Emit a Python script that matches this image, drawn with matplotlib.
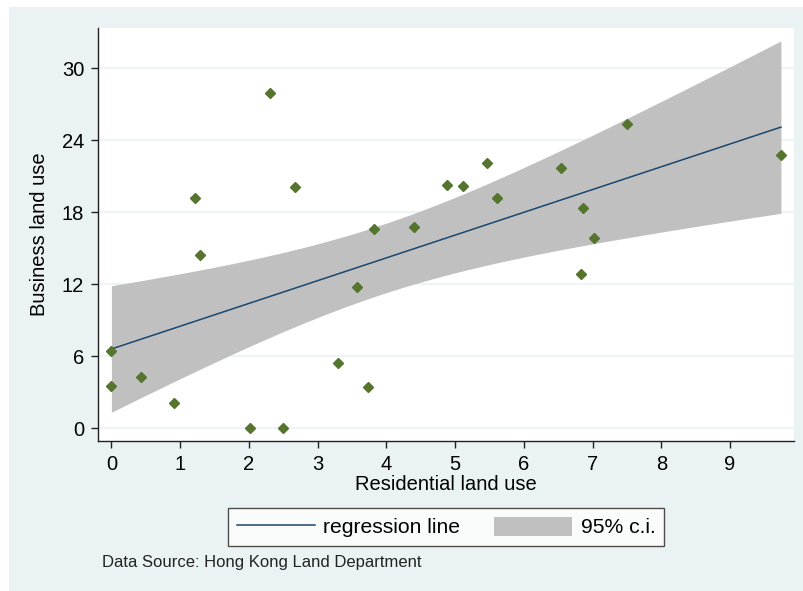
import matplotlib
matplotlib.use('Agg')
import matplotlib.pyplot as plt
from matplotlib.patches import Rectangle, Patch
from matplotlib.lines import Line2D
import numpy as np

plt.rcParams['font.family'] = ['Liberation Sans', 'DejaVu Sans']

# 주거용 / 상업용 토지 이용 데이터
residential = [1.21, 2.31, 2.67, 4.885, 3.82, 4.40, 1.285, 0.0, 0.0, 0.437, 0.907, 2.02, 2.50,
               3.29, 3.575, 3.73, 5.11, 5.46, 5.61, 6.545, 6.865, 7.02, 7.505, 9.74, 6.83]
business = [19.19, 27.97, 20.08, 20.30, 16.58, 16.80, 14.44, 6.44, 3.50, 4.28, 2.11, 0.0, 0.0,
            5.47, 11.75, 3.42, 20.19, 22.13, 19.22, 21.72, 18.33, 15.83, 25.36, 22.78, 12.83]
x_ticks = [0, 1, 2, 3, 4, 5, 6, 7, 8, 9]
y_ticks = [0, 6, 12, 18, 24, 30]

# 선형회귀 + 95% 신뢰구간 (평균 예측값)
x = np.array(residential)
y = np.array(business)
n = len(x)
slope, intercept = np.polyfit(x, y, 1)
resid = y - (intercept + slope * x)
s = np.sqrt(np.sum(resid ** 2) / (n - 2))
sxx = np.sum((x - x.mean()) ** 2)
t_crit = 2.069  # t(0.975, 23)

xs = np.linspace(x.min(), x.max(), 100)
fit = intercept + slope * xs
se = s * np.sqrt(1.0 / n + (xs - x.mean()) ** 2 / sxx)
lower = fit - t_crit * se
upper = fit + t_crit * se

bg = '#eaf2f3'
fig = plt.figure(figsize=(8.04, 5.91), dpi=100, facecolor='white')
fig.patches.append(Rectangle((9 / 804, 0), 1, 1 - 7 / 591, transform=fig.transFigure,
                             facecolor=bg, edgecolor='none', zorder=-10))

ax = fig.add_axes([98 / 804, 150 / 591, 696 / 804, 413 / 591])
ax.set_facecolor('white')

ax.fill_between(xs, lower, upper, color='#c0c0c0', linewidth=0, zorder=1)
ax.plot(xs, fit, color='#1a476f', linewidth=1.1, zorder=2)
ax.plot(x, y, linestyle='none', marker='D', markersize=5, color='#55752f', zorder=3)

ax.set_xlim(-0.195, 9.93)
ax.set_ylim(-1.06, 33.36)
ax.set_xticks(x_ticks)
ax.set_yticks(y_ticks)
ax.grid(axis='y', color=bg, linewidth=1.2, zorder=0)
ax.set_axisbelow(True)

for side in ['top', 'right']:
    ax.spines[side].set_visible(False)
for side in ['left', 'bottom']:
    ax.spines[side].set_color('#222222')
    ax.spines[side].set_linewidth(1.0)

ax.tick_params(axis='both', length=5, width=1.0, color='#222222', labelsize=14.5, pad=5)
ax.set_xlabel('Residential land use', fontsize=14.5, labelpad=1)
ax.set_ylabel('Business land use', fontsize=14.5, labelpad=9)

# 범례
handles = [Line2D([0], [0], color='#1a476f', linewidth=1.1),
           Patch(facecolor='#c0c0c0', edgecolor='none')]
leg = fig.legend(handles, ['regression line', '95% c.i.'], loc='center',
                 bbox_to_anchor=(446 / 804, 1 - 527 / 591), ncol=2, fontsize=15.2,
                 frameon=True, fancybox=False, handlelength=3.7, handleheight=1.0,
                 handletextpad=0.4, columnspacing=1.6, borderpad=0.4)
leg.get_frame().set_edgecolor('#222222')
leg.get_frame().set_linewidth(1.0)
leg.get_frame().set_facecolor('white')

fig.text(102 / 804, 1 - 563 / 591, 'Data Source: Hong Kong Land Department',
         fontsize=12, va='center', ha='left', color='#222222')

fig.savefig('out.png', dpi=100, facecolor=fig.get_facecolor())
